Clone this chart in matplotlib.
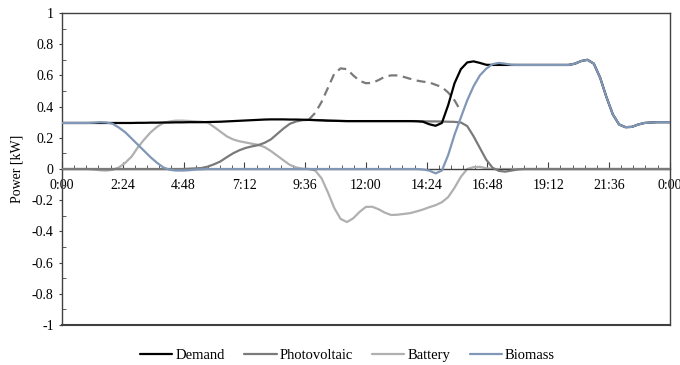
import matplotlib
matplotlib.use("Agg")
import matplotlib.pyplot as plt
from matplotlib.ticker import MultipleLocator, FuncFormatter

plt.rcParams['font.family'] = ['Liberation Serif', 'DejaVu Serif']

# time of day in hours, quarter-hour steps (0:00 .. 24:00)
hours = [i * 0.25 for i in range(97)]

demand = [
    0.295, 0.295, 0.295, 0.295,  0.295, 0.295, 0.295, 0.295,
    0.295, 0.295, 0.295, 0.295,  0.296, 0.296, 0.297, 0.297,
    0.298, 0.298, 0.299, 0.299,  0.300, 0.300, 0.300, 0.301,
    0.302, 0.303, 0.305, 0.307,  0.309, 0.311, 0.313, 0.315,
    0.317, 0.318, 0.318, 0.318,  0.317, 0.317, 0.316, 0.315,
    0.313, 0.312, 0.310, 0.309,  0.308, 0.307, 0.307, 0.307,
    0.307, 0.307, 0.307, 0.307,  0.307, 0.307, 0.307, 0.307,
    0.306, 0.303, 0.287, 0.277,  0.295, 0.410, 0.550, 0.640,
    0.683, 0.690, 0.680, 0.668,  0.667, 0.667, 0.667, 0.667,
    0.667, 0.667, 0.667, 0.667,  0.667, 0.667, 0.667, 0.667,
    0.667, 0.675, 0.692, 0.700,  0.675, 0.585, 0.460, 0.350,
    0.285, 0.268, 0.270, 0.285,  0.295, 0.298, 0.300, 0.300,
    0.300]

photovoltaic = [
    0, 0, 0, 0,  0, 0, 0, 0,  0, 0, 0, 0,  0, 0, 0, 0,  0, 0, 0, 0,
    0.002, 0.004, 0.006, 0.015,  0.030, 0.048, 0.075, 0.100,
    0.120, 0.135, 0.145, 0.153,  0.168, 0.190, 0.225, 0.260,
    0.290, 0.305, 0.313, 0.315,  0.314, 0.312, 0.310, 0.309,
    0.308, 0.307, 0.307, 0.307,  0.307, 0.307, 0.307, 0.307,
    0.307, 0.307, 0.307, 0.307,  0.307, 0.306, 0.305, 0.305,
    0.304, 0.303, 0.302, 0.298,  0.275, 0.210, 0.135, 0.060,
    0.008, -0.012, -0.017, -0.010,  -0.003, 0, 0, 0,
    0, 0, 0, 0,  0, 0, 0, 0,  0, 0, 0, 0,  0, 0, 0, 0,  0, 0, 0, 0,
    0]

# PV power available but not used (dashed)
pv_avail_hours = [9.75 + i * 0.25 for i in range(25)]
pv_available = [
    0.317, 0.360, 0.430, 0.520, 0.610, 0.645, 0.640, 0.600, 0.565,
    0.550, 0.552, 0.570, 0.592, 0.600, 0.600, 0.590, 0.578, 0.567,
    0.560, 0.555, 0.540, 0.525, 0.490, 0.440, 0.370]

battery = [
    0, 0, 0, 0,  0, -0.003, -0.008, -0.010,
    -0.005, 0.010, 0.040, 0.080,  0.140, 0.190, 0.235, 0.270,
    0.295, 0.305, 0.310, 0.310,  0.308, 0.305, 0.303, 0.298,
    0.270, 0.240, 0.210, 0.190,  0.178, 0.170, 0.162, 0.155,
    0.140, 0.115, 0.085, 0.055,  0.026, 0.010, 0.002, 0,
    -0.010, -0.060, -0.150, -0.250,  -0.320, -0.340, -0.316, -0.275,
    -0.243, -0.242, -0.258, -0.280,  -0.295, -0.293, -0.288, -0.283,
    -0.272, -0.260, -0.245, -0.232,  -0.213, -0.180, -0.120, -0.050,
    0.000, 0.012, 0.014, 0.005,  0, 0, 0, 0,
    0, 0, 0, 0,  0, 0, 0, 0,  0, 0, 0, 0,  0, 0, 0, 0,
    0, 0, 0, 0,  0, 0, 0, 0,
    0]

biomass = [
    0.295, 0.295, 0.295, 0.295,  0.295, 0.297, 0.300, 0.298,
    0.290, 0.265, 0.235, 0.195,  0.155, 0.115, 0.075, 0.040,
    0.010, -0.005, -0.010, -0.010,  -0.008, -0.004, -0.002, 0,
    0, 0, 0, 0,  0, 0, 0, 0,  0, 0, 0, 0,  0, 0, 0, 0,
    0, 0, 0, 0,  0, 0, 0, 0,  0, 0, 0, 0,  0, 0, 0, 0,
    0, -0.003, -0.010, -0.028,  -0.010, 0.090, 0.220, 0.330,
    0.440, 0.530, 0.600, 0.643,  0.672, 0.680, 0.675, 0.668,
    0.667, 0.667, 0.667, 0.667,  0.667, 0.667, 0.667, 0.667,
    0.667, 0.675, 0.692, 0.700,  0.675, 0.585, 0.460, 0.350,
    0.285, 0.268, 0.270, 0.285,  0.295, 0.298, 0.300, 0.300,
    0.300]

fig = plt.figure(figsize=(6.8, 3.65), dpi=100)
ax = fig.add_axes([0.0912, 0.1096, 0.8938, 0.8548])

line_kw = dict(lw=1.6, solid_joinstyle='round', solid_capstyle='round')
ax.plot(hours, demand, color='black', label='Demand', zorder=4, **line_kw)
ax.plot(hours, photovoltaic, color='#7a7a7a', label='Photovoltaic', zorder=3, **line_kw)
ax.plot(pv_avail_hours, pv_available, color='#7a7a7a', lw=1.6, ls=(0, (4, 2.5)), zorder=3)
ax.plot(hours, battery, color='#b0b0b0', label='Battery', zorder=2, **line_kw)
ax.plot(hours, biomass, color='#8097b6', label='Biomass', zorder=5, **line_kw)

ax.set_xlim(0, 24)
ax.set_ylim(-1, 1)

# x axis sits on y = 0, frame drawn all round
ax.spines['bottom'].set_position(('data', 0))
for s in ['left', 'right', 'top', 'bottom']:
    ax.spines[s].set_color('#404040')
    ax.spines[s].set_linewidth(1.0)
ax.axhline(-1, color='#404040', lw=1.5, clip_on=False, zorder=6)

ax.xaxis.set_major_locator(MultipleLocator(2.4))
ax.xaxis.set_minor_locator(MultipleLocator(0.48))
ax.xaxis.set_major_formatter(FuncFormatter(
    lambda v, p: "%d:%02d" % (int(round(v * 60)) // 60 % 24, int(round(v * 60)) % 60)))
ax.tick_params(axis='x', which='major', direction='in', length=5, pad=7,
               labelsize=10, color='#404040')
ax.tick_params(axis='x', which='minor', direction='in', length=3, color='#404040')

ax.yaxis.set_major_locator(MultipleLocator(0.2))
ax.yaxis.set_minor_locator(MultipleLocator(0.1))
ax.yaxis.set_major_formatter(FuncFormatter(lambda v, p: "%g" % round(v, 1)))
ax.tick_params(axis='y', which='major', direction='out', length=2, pad=4,
               labelsize=10, color='#404040')
ax.tick_params(axis='y', which='minor', direction='in', length=3, color='#404040')

ax.set_ylabel('Power [kW]', fontsize=10, labelpad=6)

ax.legend(loc='upper center', bbox_to_anchor=(0.47, -0.035), ncol=4, frameon=False,
          fontsize=10.5, handlelength=2.2, handletextpad=0.2, columnspacing=1.35)

fig.savefig('out.png', dpi=100)
